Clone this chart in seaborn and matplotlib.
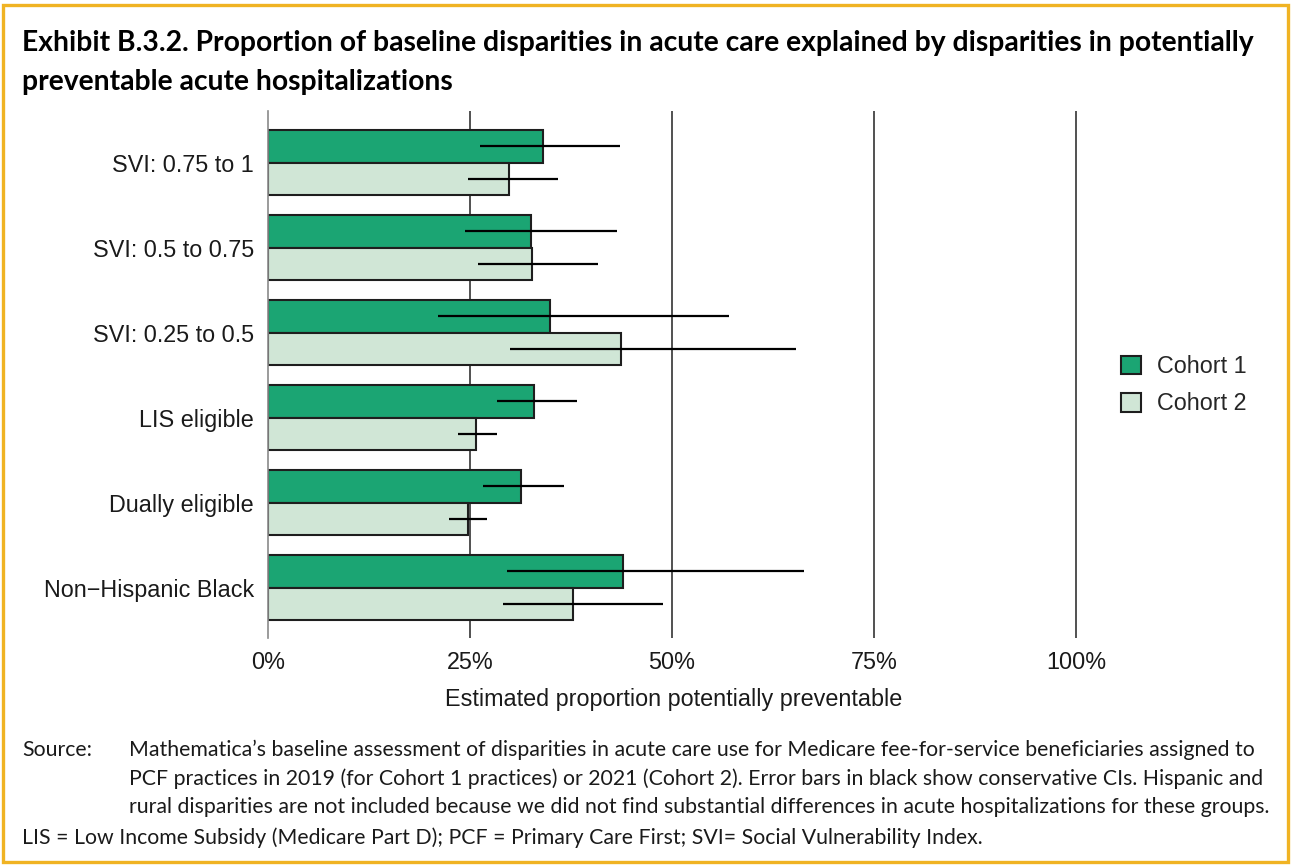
#!/usr/bin/env python3
"""Exhibit B.3.2: share of baseline acute-care disparities explained by preventable hospitalizations."""

import matplotlib
matplotlib.use("Agg")
import matplotlib.pyplot as plt
import matplotlib.ticker as mticker
from matplotlib.patches import Rectangle
import pandas as pd
import seaborn as sns

groups = [
    "SVI: 0.75 to 1",
    "SVI: 0.5 to 0.75",
    "SVI: 0.25 to 0.5",
    "LIS eligible",
    "Dually eligible",
    "Non\u2212Hispanic Black",
]
cohorts = ["Cohort 1", "Cohort 2"]

# percent values
cohort1 = [34.0, 32.6, 34.9, 32.9, 31.3, 43.9]
cohort1_lo = [26.3, 24.4, 21.1, 28.3, 26.6, 29.6]
cohort1_hi = [43.6, 43.2, 57.1, 38.2, 36.6, 66.3]
cohort2 = [29.8, 32.7, 43.7, 25.8, 24.7, 37.8]
cohort2_lo = [24.7, 26.0, 29.9, 23.5, 22.4, 29.1]
cohort2_hi = [35.9, 40.9, 65.4, 28.3, 27.1, 48.9]

title_lines = [
    "Exhibit B.3.2. Proportion of baseline disparities in acute care explained by disparities in potentially",
    "preventable acute hospitalizations",
]
source_lines = [
    "Mathematica\u2019s baseline assessment of disparities in acute care use for Medicare fee-for-service beneficiaries assigned to",
    "PCF practices in 2019 (for Cohort 1 practices) or 2021 (Cohort 2). Error bars in black show conservative CIs. Hispanic and",
    "rural disparities are not included because we did not find substantial differences in acute hospitalizations for these groups.",
]
note = "LIS = Low Income Subsidy (Medicare Part D); PCF = Primary Care First; SVI= Social Vulnerability Index."

W, H = 1291, 867
DARK_GREEN = "#1ba573"
LIGHT_GREEN = "#d0e6d6"
GOLD = "#f0b323"
TEXT_FONT = ["Lato", "DejaVu Sans"]


def fx(px):
    return px / W


def fy(py):
    return 1 - py / H


def fit_text(fig, txt, target_px):
    renderer = fig.canvas.get_renderer()
    width = txt.get_window_extent(renderer).width
    txt.set_fontsize(txt.get_fontsize() * target_px / width)


df = pd.DataFrame(
    {
        "group": groups * 2,
        "cohort": [cohorts[0]] * len(groups) + [cohorts[1]] * len(groups),
        "value": cohort1 + cohort2,
        "lo": cohort1_lo + cohort2_lo,
        "hi": cohort1_hi + cohort2_hi,
    }
)

sns.set_theme(style="white")
plt.rcParams["font.family"] = ["Liberation Sans", "DejaVu Sans"]

fig = plt.figure(figsize=(W / 100, H / 100), dpi=100)
ax = fig.add_axes([fx(268), fy(638), fx(1080) - fx(268), (638 - 111) / H])

sns.barplot(
    data=df,
    x="value",
    y="group",
    hue="cohort",
    order=groups,
    hue_order=cohorts,
    palette=[DARK_GREEN, LIGHT_GREEN],
    saturation=1,
    orient="h",
    width=0.765,
    edgecolor="#1e1e1e",
    linewidth=1.5,
    errorbar=None,
    ax=ax,
)

# confidence intervals: plain black lines through each bar centre
for container, cohort in zip(ax.containers, cohorts):
    sub = df[df["cohort"] == cohort].set_index("group").loc[groups]
    ys = [p.get_y() + p.get_height() / 2 for p in container.patches]
    ax.hlines(ys, sub["lo"], sub["hi"], color="black", linewidth=1.6, zorder=5)

ax.set_xlim(0, 100.5)
ax.set_ylim(5.594, -0.606)
ax.set_xticks([0, 25, 50, 75, 100])
ax.xaxis.set_major_formatter(mticker.FuncFormatter(lambda v, _: f"{v:.0f}%"))
ax.set_axisbelow(True)
ax.xaxis.grid(True, color="#333333", linewidth=1.2)
ax.xaxis.get_gridlines()[0].set_visible(False)
for side in ["top", "right", "bottom"]:
    ax.spines[side].set_visible(False)
ax.spines["left"].set_color("#8a8a8a")
ax.spines["left"].set_linewidth(1.2)
ax.tick_params(axis="x", length=0, pad=9.4, labelsize=16.8, labelcolor="#1a1a1a")
ax.tick_params(axis="y", length=0, pad=10, labelsize=16.8, labelcolor="#1a1a1a")
ax.set_ylabel("")
ax.set_xlabel("Estimated proportion potentially preventable", fontsize=16.8, color="#1a1a1a", labelpad=10)

handles, labels = ax.get_legend_handles_labels()
ax.legend(
    handles,
    labels,
    loc="upper left",
    bbox_to_anchor=(fx(1100), fy(334)),
    bbox_transform=fig.transFigure,
    frameon=False,
    fontsize=16.8,
    handlelength=0.86,
    handleheight=0.86,
    handletextpad=0.69,
    labelspacing=0.62,
)

t1 = fig.text(fx(22), fy(51), title_lines[0], fontsize=16, fontweight="bold", family=TEXT_FONT, color="black")
fit_text(fig, t1, 1234)
fig.text(fx(22), fy(90), title_lines[1], fontsize=t1.get_fontsize(), fontweight="bold", family=TEXT_FONT, color="black")

src = fig.text(fx(22), fy(756), "Source:", fontsize=11, family=TEXT_FONT, color="#1a1a1a")
s0 = fig.text(fx(129), fy(756), source_lines[0], fontsize=11, family=TEXT_FONT, color="#1a1a1a")
fit_text(fig, s0, 1118)
fs = s0.get_fontsize()
src.set_fontsize(fs)
for y, line in zip([785, 813], source_lines[1:]):
    fig.text(fx(129), fy(y), line, fontsize=fs, family=TEXT_FONT, color="#1a1a1a")
fig.text(fx(22), fy(844), note, fontsize=fs, family=TEXT_FONT, color="#1a1a1a")

fig.patches.append(
    Rectangle(
        (fx(3), fy(862)),
        fx(1288) - fx(3),
        (862 - 5) / H,
        transform=fig.transFigure,
        fill=False,
        edgecolor=GOLD,
        linewidth=2.4,
    )
)

fig.savefig("out.png", dpi=100)
